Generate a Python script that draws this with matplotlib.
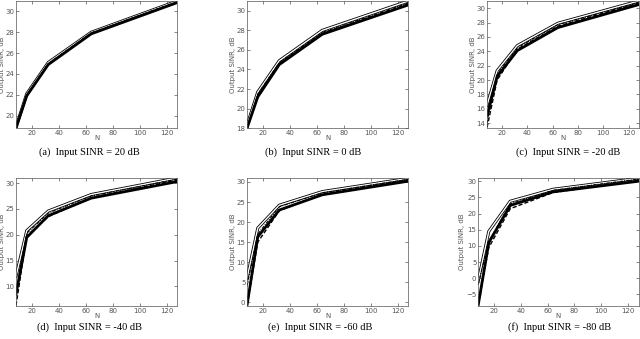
import matplotlib
matplotlib.use("Agg")
import matplotlib.pyplot as plt

N = [8, 16, 32, 64, 128]

# output SINR (dB) for each input SINR case, four curves per panel
captions = ["(a)  Input SINR = 20 dB", "(b)  Input SINR = 0 dB", "(c)  Input SINR = -20 dB",
            "(d)  Input SINR = -40 dB", "(e)  Input SINR = -60 dB", "(f)  Input SINR = -80 dB"]

top_a = [18.9, 22.1, 25.1, 28.0, 31.0]
dd_a = [18.85, 22.0, 25.0, 27.95, 30.95]
dash_a = [18.8, 21.95, 24.95, 27.9, 30.9]
thick_a = [18.8, 21.9, 24.9, 27.85, 30.85]

top_b = [18.3, 21.7, 24.9, 28.0, 31.0]
dd_b = [18.1, 21.5, 24.7, 27.8, 30.8]
dash_b = [17.9, 21.3, 24.6, 27.7, 30.7]
thick_b = [18.0, 21.2, 24.5, 27.6, 30.6]

top_c = [16.5, 21.3, 24.8, 27.9, 31.0]
dd_c = [14.0, 20.8, 24.5, 27.7, 30.8]
dash_c = [13.4, 20.0, 24.3, 27.5, 30.7]
thick_c = [15.0, 20.5, 24.1, 27.3, 30.5]

top_d = [12.0, 20.8, 24.6, 27.8, 31.0]
dd_d = [9.0, 20.3, 24.2, 27.5, 30.8]
dash_d = [6.3, 19.8, 23.5, 27.2, 30.6]
thick_d = [8.5, 19.5, 23.7, 27.1, 30.3]

top_e = [6.0, 18.5, 24.2, 27.6, 30.9]
dd_e = [4.0, 17.0, 23.8, 27.3, 30.7]
dash_e = [-0.8, 15.0, 22.8, 27.0, 30.5]
thick_e = [-0.8, 16.3, 23.0, 26.8, 30.2]

top_f = [-1.0, 14.5, 23.8, 27.5, 30.9]
dd_f = [-2.0, 11.5, 23.0, 27.2, 30.7]
dash_f = [-8.5, 9.5, 21.5, 26.5, 30.3]
thick_f = [-8.5, 11.0, 22.5, 26.7, 30.0]

curves = [(top_a, dd_a, dash_a, thick_a), (top_b, dd_b, dash_b, thick_b),
          (top_c, dd_c, dash_c, thick_c), (top_d, dd_d, dash_d, thick_d),
          (top_e, dd_e, dash_e, thick_e), (top_f, dd_f, dash_f, thick_f)]

ylims = [(18.8, 31), (18, 31), (13.3, 31), (6.2, 31), (-1, 31), (-8.6, 31)]
yticks = [range(20, 31, 2), range(18, 31, 2), range(14, 31, 2),
          range(10, 31, 5), range(0, 31, 5), range(-5, 31, 5)]

# axes boxes [left, bottom, width, height] in figure fraction
boxes = [[0.025, 0.622, 0.252, 0.375], [0.386, 0.622, 0.252, 0.375], [0.761, 0.622, 0.237, 0.375],
         [0.025, 0.097, 0.252, 0.378], [0.386, 0.097, 0.252, 0.378], [0.747, 0.097, 0.251, 0.378]]
cap_x = [0.14, 0.49, 0.887, 0.14, 0.50, 0.875]
cap_y = [0.551, 0.551, 0.551, 0.035, 0.035, 0.035]

fig = plt.figure(figsize=(6.4, 3.39), dpi=100)
for i in range(6):
    ax = fig.add_axes(boxes[i])
    top, dd, dash, thick = curves[i]
    ax.plot(N, top, color='black', lw=2.2, solid_joinstyle='miter')
    ax.plot(N, top, color='white', lw=1.0)
    ax.plot(N, dd, color='black', lw=0.8, linestyle=(0, (3, 1, 1, 1)))
    ax.plot(N, dash, color='black', lw=1.0, linestyle=(0, (3, 1.5)))
    ax.plot(N, thick, color='black', lw=2.0)
    ax.set_xlim(8, 128)
    ax.set_ylim(*ylims[i])
    ax.set_xticks([20, 40, 60, 80, 100, 120])
    ax.set_yticks(list(yticks[i]))
    ax.tick_params(direction='in', length=2, width=0.5, labelsize=5, colors='#555555',
                   top=True, right=True, pad=1.2)
    for s in ax.spines.values():
        s.set_linewidth(0.5)
        s.set_color('#555555')
    ax.set_xlabel('N', fontsize=5, color='#555555', labelpad=-0.5)
    ax.set_ylabel('Output SINR, dB', fontsize=5, color='#555555', labelpad=0.5)
    fig.text(cap_x[i], cap_y[i], captions[i], ha='center', va='center',
             fontsize=7.5, family='Liberation Serif')

fig.savefig('out.png', dpi=100)
